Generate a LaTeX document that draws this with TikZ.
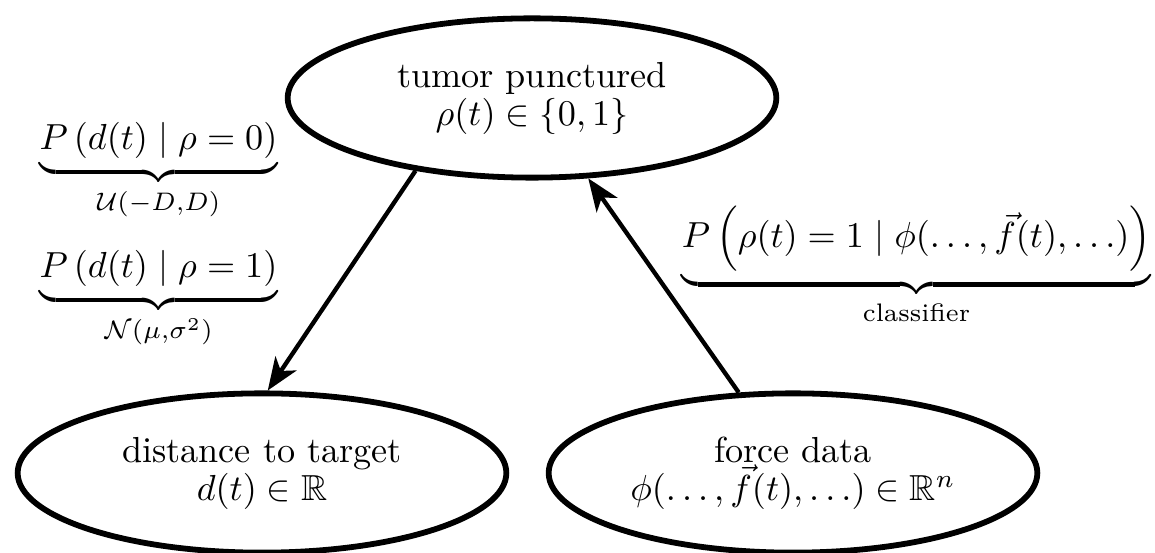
\documentclass[tikz,border=0pt]{standalone}
\usepackage{amsmath,amssymb}
\usetikzlibrary{arrows.meta,shapes.geometric}
\begin{document}
\begin{tikzpicture}[x=0.27624pt,y=-0.27624pt,
  state/.style={ellipse,draw,line width=1.6pt,minimum width=135pt,minimum height=44pt,inner sep=1pt,align=center},
  conn/.style={line width=1.2pt,-{Stealth[length=9pt,width=7pt,inset=2.5pt]}},
  lab/.style={anchor=base,inner sep=0pt}]
\useasboundingbox (0,0) rectangle (1155,553);
\node[state] (tumor) at (532,98) {tumor punctured\\[-1.5pt]$\rho(t)\in\{0,1\}$};
\node[state] (dist) at (262,473) {distance to target\\[-1.5pt]$d(t)\in\mathbb{R}$};
\node[state] (force) at (793,473) {force data\\[-1.5pt]$\phi(\ldots,\vec{f}(t),\ldots)\in\mathbb{R}^n$};
\draw[conn] (tumor.212) -- (dist.86.5);
\draw[conn] (force.124.5) -- (tumor.305);
\node[lab] (l0) at (158.5,150) {$\underbrace{P\left(d(t)\mid\rho=0\right)}_{\mathcal{U}(-D,D)}$};
\node[lab] (l1) at (158.5,278) {$\underbrace{P\left(d(t)\mid\rho=1\right)}_{\mathcal{N}(\mu,\sigma^2)}$};
\node[lab] (l2) at (916.5,248) {$\underbrace{P\left(\rho(t)=1\mid\phi(\ldots,\vec{f}(t),\ldots)\right)}_{\text{classifier}}$};
\end{tikzpicture}
\end{document}
